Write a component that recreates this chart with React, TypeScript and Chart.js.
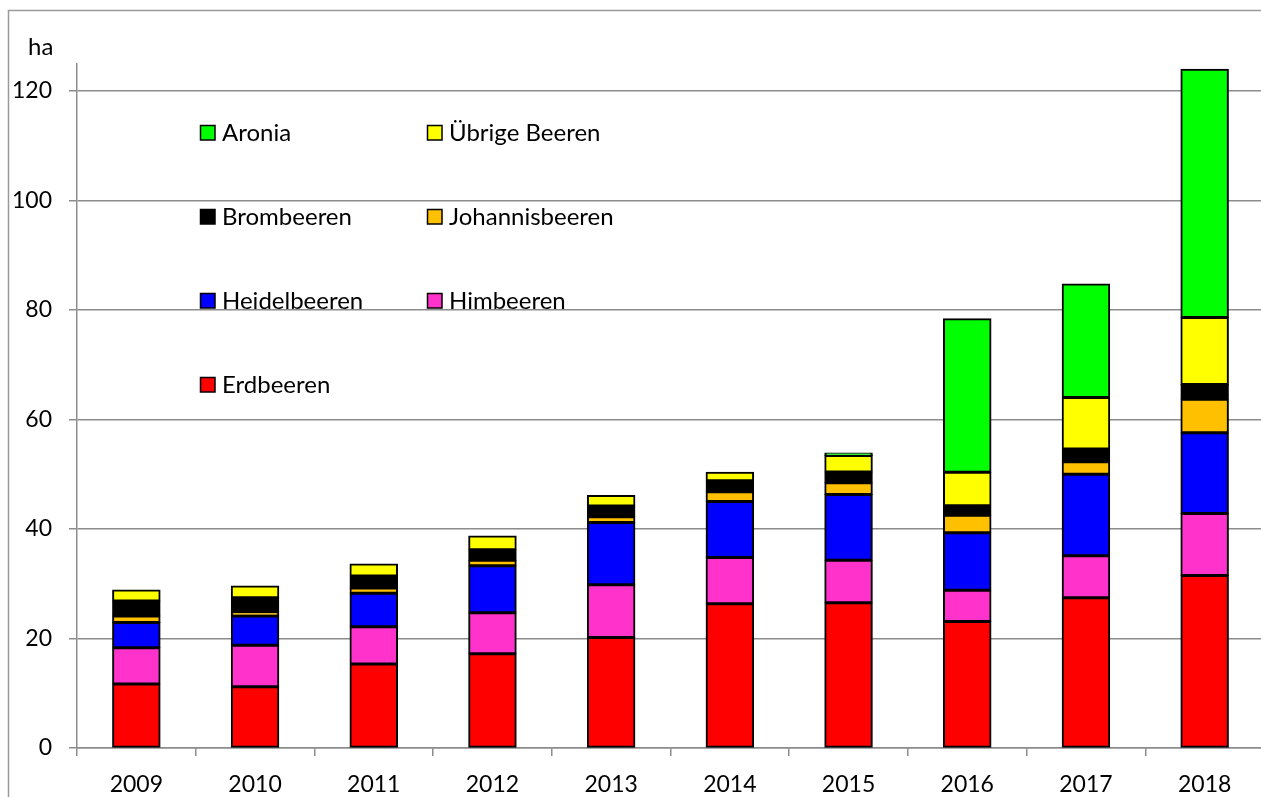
import React, { useEffect, useRef } from "react";
import { Chart, registerables } from "chart.js";

Chart.register(...registerables);

const years = ["2009", "2010", "2011", "2012", "2013", "2014", "2015", "2016", "2017", "2018"];
const erdbeeren = [11.7, 11.2, 15.35, 17.2, 20.2, 26.35, 26.55, 23.1, 27.45, 31.5];
const himbeeren = [6.6, 7.55, 6.8, 7.5, 9.6, 8.45, 7.75, 5.7, 7.65, 11.35];
const heidelbeeren = [4.6, 5.35, 6.1, 8.6, 11.4, 10.2, 12.0, 10.5, 14.9, 14.75];
const johannisbeeren = [1.2, 0.8, 0.95, 1.0, 1.05, 1.8, 2.15, 3.2, 2.3, 6.1];
const brombeeren = [2.75, 2.55, 2.2, 1.9, 1.95, 2.0, 1.95, 1.75, 2.3, 2.7];
const uebrige = [2.0, 2.15, 2.2, 2.5, 1.9, 1.55, 3.0, 6.1, 9.4, 12.25];
const aronia = [0, 0, 0, 0, 0, 0, 0.5, 28.05, 20.75, 45.3];
const unitLabel = "ha";

const FONT = "Lato";

const customPlugin = {
  id: "custom",
  beforeDraw(chart: any) {
    const ctx = chart.ctx;
    ctx.save();
    ctx.fillStyle = "#ffffff";
    ctx.fillRect(0, 0, chart.width, chart.height);
    ctx.restore();
  },
  afterDraw(chart: any) {
    const ctx = chart.ctx;
    ctx.save();
    // outer frame
    ctx.strokeStyle = "#9a9a9a";
    ctx.lineWidth = 1.5;
    ctx.strokeRect(8.5, 10.5, 1400, 1000);
    // unit label
    ctx.fillStyle = "#000";
    ctx.font = `24px ${FONT}`;
    ctx.textAlign = "left";
    ctx.textBaseline = "alphabetic";
    ctx.fillText(unitLabel, 28, 55);
    // legend in 2 columns, reverse dataset order
    const ds = [...chart.data.datasets].reverse();
    const colX = [200, 427];
    const rowY0 = 132.5;
    const rowStep = 84;
    ds.forEach((d: any, i: number) => {
      const col = i % 2;
      const row = Math.floor(i / 2);
      const x = colX[col];
      const y = rowY0 + row * rowStep;
      ctx.fillStyle = d.backgroundColor;
      ctx.fillRect(x, y - 7.5, 15, 15);
      ctx.strokeStyle = "#000";
      ctx.lineWidth = 1.5;
      ctx.strokeRect(x + 0.5, y - 7, 14.5, 14.5);
      ctx.fillStyle = "#000";
      ctx.font = `24px ${FONT}`;
      ctx.textBaseline = "middle";
      ctx.fillText(d.label, x + 22, y + 1);
    });
    ctx.restore();
  },
};

export default function App() {
  const ref = useRef<HTMLCanvasElement | null>(null);
  useEffect(() => {
    if (!ref.current) return;
    const mk = (label: string, data: number[], color: string) => ({
      label,
      data,
      backgroundColor: color,
      borderColor: "#000000",
      borderWidth: 2,
      borderSkipped: false,
      inflateAmount: 0.5,
      categoryPercentage: 1,
      barPercentage: 0.4,
    });
    const chart = new Chart(ref.current, {
      type: "bar",
      data: {
        labels: years,
        datasets: [
          mk("Erdbeeren", erdbeeren, "#ff0000"),
          mk("Himbeeren", himbeeren, "#ff33cc"),
          mk("Heidelbeeren", heidelbeeren, "#0000ff"),
          mk("Johannisbeeren", johannisbeeren, "#ffc000"),
          mk("Brombeeren", brombeeren, "#000000"),
          mk("Übrige Beeren", uebrige, "#ffff00"),
          mk("Aronia", aronia, "#00ff00"),
        ],
      },
      options: {
        responsive: false,
        animation: false,
        devicePixelRatio: 1,
        layout: { padding: { top: 63.6, left: 0, right: 6, bottom: 0 } },
        plugins: { legend: { display: false }, tooltip: { enabled: false } },
        scales: {
          x: {
            stacked: true,
            grid: {
              offset: true,
              drawOnChartArea: false,
              drawTicks: true,
              tickLength: 8,
              color: "#8c8c8c",
              lineWidth: 1.5,
            },
            border: { color: "#8c8c8c", width: 1.5 },
            ticks: { color: "#000", font: { family: FONT, size: 23 }, padding: 15, maxRotation: 0 },
            afterFit: (s: any) => {
              s.height = 49;
            },
          },
          y: {
            stacked: true,
            min: 0,
            max: 125,
            grid: { color: "#8c8c8c", lineWidth: 1.5, tickLength: 8 },
            border: { color: "#8c8c8c", width: 1.5 },
            ticks: {
              stepSize: 20,
              includeBounds: false,
              color: "#000",
              font: { family: FONT, size: 23 },
              padding: 17,
            },
            afterFit: (s: any) => {
              s.width = 77;
            },
          },
        },
      },
      plugins: [customPlugin],
    });
    return () => chart.destroy();
  }, []);
  return (
    <div style={{ position: "fixed", left: 0, top: 0, width: 1261, height: 797, overflow: "hidden", background: "#fff" }}>
      <canvas ref={ref} width={1270} height={797} style={{ width: 1270, height: 797, display: "block" }} />
    </div>
  );
}
